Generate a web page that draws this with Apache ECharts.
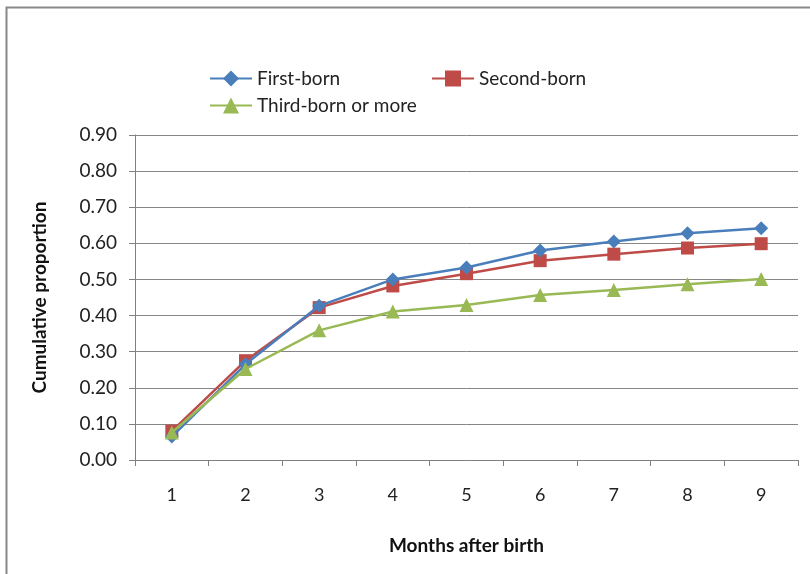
<!DOCTYPE html>
<html>
<head>
<meta charset="utf-8">
<script src="https://cdn.jsdelivr.net/npm/echarts@6/dist/echarts.min.js"></script>
<style>
html,body{margin:0;padding:0;background:#fff;}
#chart{width:810px;height:574px;}
</style>
</head>
<body>
<div id="chart"></div>
<script>
var months = ['1','2','3','4','5','6','7','8','9'];
var firstBorn = [0.065, 0.265, 0.427, 0.500, 0.533, 0.580, 0.605, 0.628, 0.642];
var secondBorn = [0.080, 0.275, 0.422, 0.482, 0.516, 0.552, 0.570, 0.587, 0.599];
var thirdBorn = [0.076, 0.252, 0.359, 0.411, 0.429, 0.457, 0.471, 0.487, 0.501];
var yTicks = [0, 0.9, 0.1];

var font = 'Lato, "Open Sans", sans-serif';
var chart = echarts.init(document.getElementById('chart'));
function legendItem(name, left, top){
  return {
    data:[name], left:left, top:top, itemWidth:42, itemHeight:20,
    textStyle:{fontFamily:font, fontSize:19, color:'#222'}, itemGap:10, selectedMode:false
  };
}
chart.setOption({
  animation:false,
  graphic:[{type:'rect', shape:{x:6.5, y:7.5, width:840, height:600},
    style:{fill:'none', stroke:'#888', lineWidth:2}}],
  legend:[
    legendItem('First-born', 204, 64),
    legendItem('Second-born', 426, 64),
    legendItem('Third-born or more', 204, 91)
  ],
  grid:{left:135, right:12, top:135, bottom:114, containLabel:false},
  xAxis:{
    type:'category', data:months, boundaryGap:true,
    name:'Months after birth', nameLocation:'middle', nameGap:76,
    nameTextStyle:{fontFamily:font, fontSize:19, fontWeight:'bold', color:'#111'},
    axisLine:{lineStyle:{color:'#808080'}},
    axisTick:{show:true, alignWithLabel:false, length:6, lineStyle:{color:'#808080'}},
    axisLabel:{fontFamily:font, fontSize:18, color:'#222', margin:26},
    splitLine:{show:false}
  },
  yAxis:{
    type:'value', min:yTicks[0], max:yTicks[1], interval:yTicks[2],
    name:'Cumulative proportion', nameLocation:'middle', nameGap:86,
    nameTextStyle:{fontFamily:font, fontSize:19, fontWeight:'bold', color:'#111'},
    axisLine:{show:true, lineStyle:{color:'#808080'}},
    axisTick:{show:true, length:6, lineStyle:{color:'#808080'}},
    axisLabel:{fontFamily:font, fontSize:19, color:'#222', margin:18,
      formatter:function(v){return v.toFixed(2);}},
    splitLine:{show:true, lineStyle:{color:'#868686', width:1}}
  },
  series:[
    {name:'First-born', type:'line', data:firstBorn, symbol:'diamond', symbolSize:14,
      lineStyle:{color:'#4A7EBB', width:2.5}, itemStyle:{color:'#4A7EBB'}, z:3},
    {name:'Second-born', type:'line', data:secondBorn, symbol:'rect', symbolSize:13,
      lineStyle:{color:'#BE4B48', width:2.5}, itemStyle:{color:'#BE4B48'}, z:2},
    {name:'Third-born or more', type:'line', data:thirdBorn, symbol:'triangle', symbolSize:14,
      lineStyle:{color:'#98B954', width:2.5}, itemStyle:{color:'#98B954'}, z:4}
  ]
});
</script>
</body>
</html>
